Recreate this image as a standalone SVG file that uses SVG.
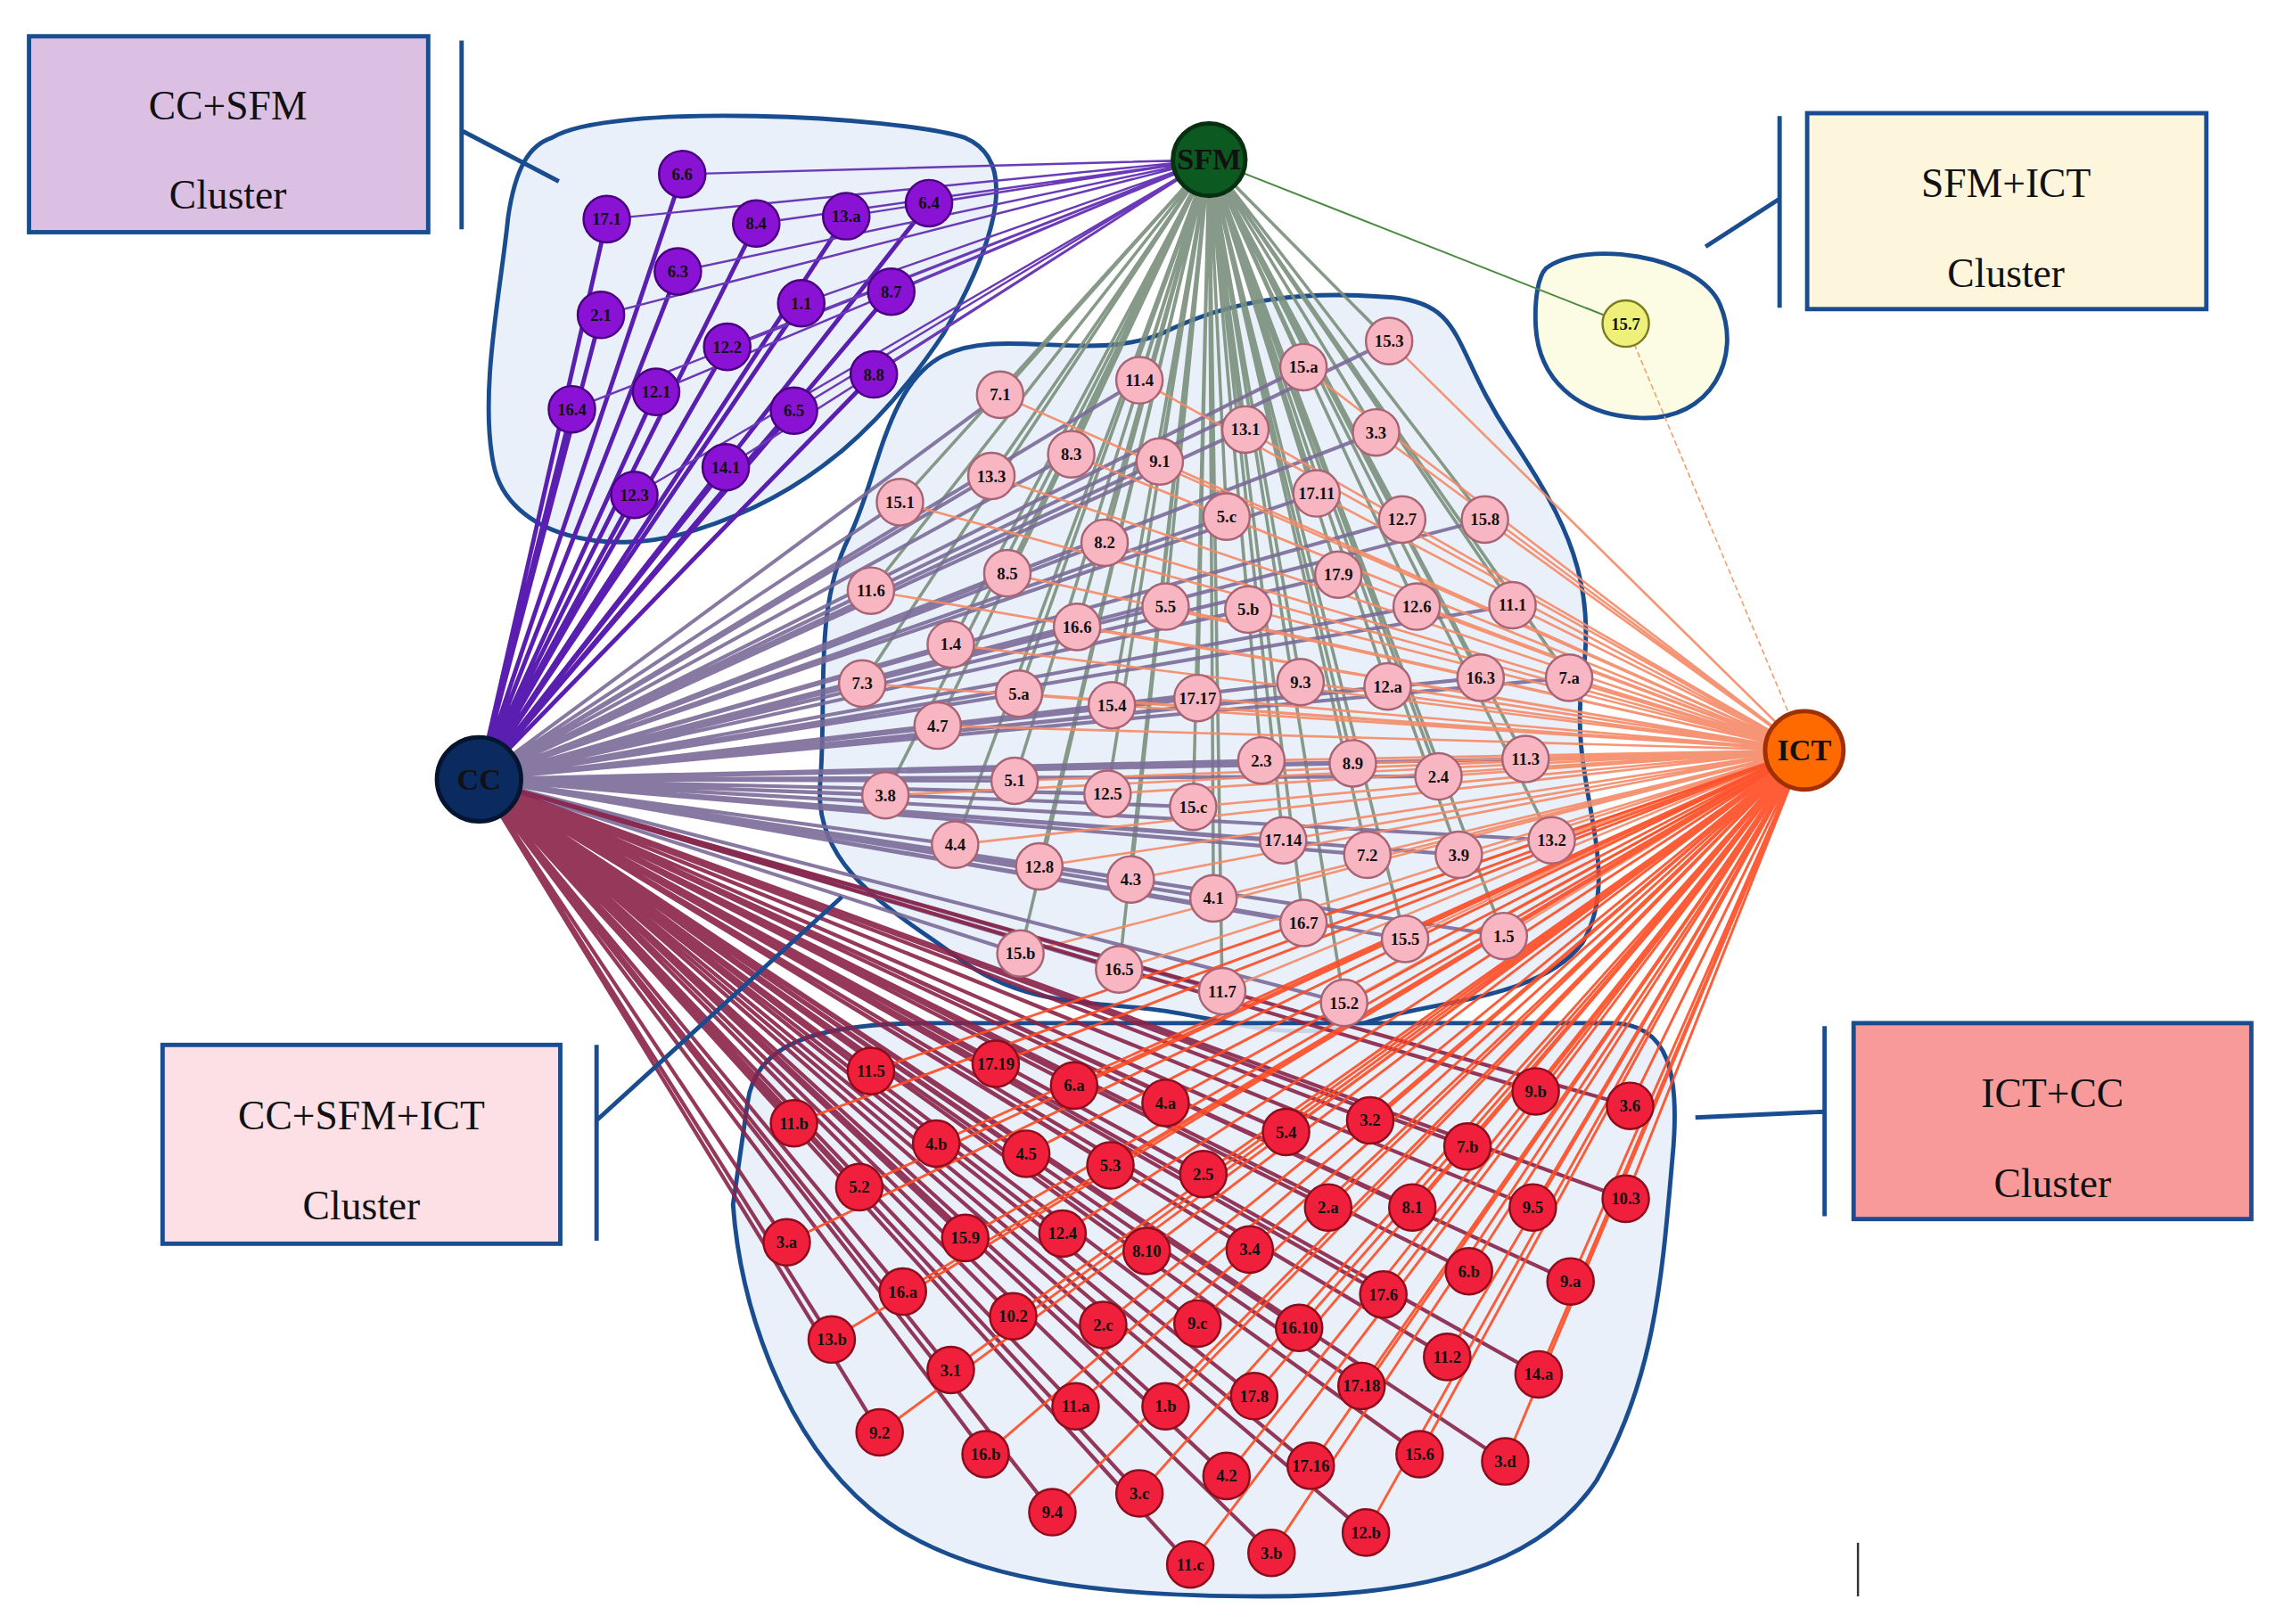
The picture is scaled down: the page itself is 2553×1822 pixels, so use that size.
<svg xmlns="http://www.w3.org/2000/svg" width="2553" height="1822" viewBox="0 0 2553 1822">
<style>
.blob{fill:#e6edf8;fill-opacity:.85;stroke:#1a4d8f;stroke-width:3}
.box{stroke:#1a4d8f;stroke-width:3}
.br{stroke:#1a4d8f;stroke-width:3;fill:none}
.bt{font-family:"Liberation Serif",serif;font-size:28px;text-anchor:middle;fill:#111}
.e{fill:none;stroke-linecap:round}
.n circle{stroke-width:1.5}
.n text{font-family:"Liberation Serif",serif;font-size:11.5px;font-weight:bold;text-anchor:middle;fill:#111}
.p circle{fill:#8a12d4;stroke:#4a0080}
.k circle{fill:#f8b6c2;stroke:#a86474}
.r circle{fill:#f0203c;stroke:#8c0c1c}
.y circle{fill:#eef07a;stroke:#7a7a20}
.h text{font-family:"Liberation Serif",serif;font-size:21px;font-weight:bold;text-anchor:middle;fill:#111}
.h circle{stroke-width:3}
</style>
<rect width="2553" height="1822" fill="#fff"/>
<g transform="scale(1.6282)">
<g id="clusters">
<path class="blob" d="M380 95C420 70 620 80 665 95C700 110 690 160 650 230C610 290 560 340 480 365C420 385 350 370 340 320C330 270 345 200 350 150C355 115 365 100 380 95Z"/>
<path class="blob" d="M650 245C690 225 750 250 800 230C850 205 900 200 960 205C1010 210 1000 240 1040 300C1080 360 1100 400 1090 470C1080 540 1120 600 1090 650C1060 690 980 690 940 705C880 720 840 700 790 695C740 690 700 690 660 660C620 630 560 600 565 540C570 480 560 420 585 370C605 330 610 265 650 245Z"/>
<path class="blob" d="M515 760C520 720 560 705 640 705L1110 705C1150 705 1158 740 1152 800C1145 880 1140 950 1100 1020C1060 1080 980 1100 870 1100C760 1100 660 1090 600 1040C540 990 510 900 505 830Z"/>
<path class="blob" style="fill:#fbfbe0" d="M1065 185C1090 165 1170 175 1185 210C1200 245 1180 290 1130 288C1085 286 1060 260 1058 225C1057 205 1060 190 1065 185Z"/>
</g>
<g id="connectors">
<path class="e" stroke="#5a1fb0" stroke-width="3" d="M330 537L470 120M330 537L418 151M330 537L521 154M330 537L583 149M330 537L640 140M330 537L467 187M330 537L552 209M330 537L614 201M330 537L414 217M330 537L501 239M330 537L602 258M330 537L394 282M330 537L452 270M330 537L547 283M330 537L500 322M330 537L437 341"/>
<path class="e" stroke="#6a3ab8" stroke-width="1.5" d="M833 110L470 120M833 110L418 151M833 110L521 154M833 110L583 149M833 110L640 140M833 110L467 187M833 110L552 209M833 110L614 201M833 110L414 217M833 110L501 239M833 110L602 258M833 110L394 282M833 110L452 270M833 110L547 283M833 110L500 322M833 110L437 341"/>
<path class="e" stroke="#4a8a40" stroke-width="1.2" d="M833 110L1120 223"/>
<path class="e" stroke="#f0a070" stroke-width="1" stroke-dasharray="3 3" d="M1243 517L1120 223"/>
<path class="e" stroke="#7a8f7c" stroke-width="2.2" opacity=".9" d="M833 110L957 235M833 110L898 253M833 110L785 262M833 110L689 272M833 110L858 296M833 110L948 298M833 110L738 313M833 110L799 318M833 110L683 328M833 110L620 346M833 110L907 340M833 110L845 356M833 110L966 358M833 110L1023 358M833 110L761 374M833 110L922 396M833 110L694 395M833 110L600 407M833 110L803 418M833 110L860 420M833 110L976 418M833 110L1042 417M833 110L742 432M833 110L655 444M833 110L594 471M833 110L702 478M833 110L766 486M833 110L825 481M833 110L896 470M833 110L956 473M833 110L1020 467M833 110L1081 467M833 110L646 500M833 110L1051 523M833 110L869 524M833 110L932 526M833 110L991 535M833 110L699 538M833 110L763 547M833 110L822 556M833 110L610 548M833 110L658 582M833 110L884 579M833 110L942 589M833 110L1005 589M833 110L1069 579M833 110L716 597M833 110L779 606M833 110L836 619M833 110L898 636M833 110L968 647M833 110L1036 645M833 110L703 657M833 110L771 668M833 110L842 683M833 110L926 691"/>
<path class="e" stroke="#7a6a98" stroke-width="2.5" opacity=".9" d="M330 537L957 235M330 537L898 253M330 537L785 262M330 537L689 272M330 537L858 296M330 537L948 298M330 537L738 313M330 537L799 318M330 537L683 328M330 537L620 346M330 537L907 340M330 537L845 356M330 537L966 358M330 537L1023 358M330 537L761 374M330 537L922 396M330 537L694 395M330 537L600 407M330 537L803 418M330 537L860 420M330 537L976 418M330 537L1042 417M330 537L742 432M330 537L655 444M330 537L594 471M330 537L702 478M330 537L766 486M330 537L825 481M330 537L896 470M330 537L956 473M330 537L1020 467M330 537L1081 467M330 537L646 500M330 537L1051 523M330 537L869 524M330 537L932 526M330 537L991 535M330 537L699 538M330 537L763 547M330 537L822 556M330 537L610 548M330 537L658 582M330 537L884 579M330 537L942 589M330 537L1005 589M330 537L1069 579M330 537L716 597M330 537L779 606M330 537L836 619M330 537L898 636M330 537L968 647M330 537L1036 645M330 537L703 657M330 537L771 668M330 537L842 683M330 537L926 691"/>
<path class="e" stroke="#f58a66" stroke-width="1.6" opacity=".9" d="M1243 517L957 235M1243 517L898 253M1243 517L785 262M1243 517L689 272M1243 517L858 296M1243 517L948 298M1243 517L738 313M1243 517L799 318M1243 517L683 328M1243 517L620 346M1243 517L907 340M1243 517L845 356M1243 517L966 358M1243 517L1023 358M1243 517L761 374M1243 517L922 396M1243 517L694 395M1243 517L600 407M1243 517L803 418M1243 517L860 420M1243 517L976 418M1243 517L1042 417M1243 517L742 432M1243 517L655 444M1243 517L594 471M1243 517L702 478M1243 517L766 486M1243 517L825 481M1243 517L896 470M1243 517L956 473M1243 517L1020 467M1243 517L1081 467M1243 517L646 500M1243 517L1051 523M1243 517L869 524M1243 517L932 526M1243 517L991 535M1243 517L699 538M1243 517L763 547M1243 517L822 556M1243 517L610 548M1243 517L658 582M1243 517L884 579M1243 517L942 589M1243 517L1005 589M1243 517L1069 579M1243 517L716 597M1243 517L779 606M1243 517L836 619M1243 517L898 636M1243 517L968 647M1243 517L1036 645M1243 517L703 657M1243 517L771 668M1243 517L842 683M1243 517L926 691"/>
<path class="e" stroke="#8a2248" stroke-width="2.6" opacity=".9" d="M330 537L600 738M330 537L686 733M330 537L740 748M330 537L803 760M330 537L886 780M330 537L944 772M330 537L1058 752M330 537L1123 762M330 537L547 774M330 537L645 788M330 537L707 795M330 537L765 803M330 537L829 809M330 537L1011 790M330 537L592 818M330 537L915 832M330 537L973 832M330 537L1056 832M330 537L1120 826M330 537L542 856M330 537L665 853M330 537L732 850M330 537L790 862M330 537L861 861M330 537L1012 876M330 537L1082 883M330 537L622 890M330 537L953 892M330 537L698 907M330 537L760 913M330 537L825 912M330 537L895 915M330 537L997 935M330 537L1060 947M330 537L573 923M330 537L655 944M330 537L864 962M330 537L938 955M330 537L741 969M330 537L803 969M330 537L606 987M330 537L679 1002M330 537L978 1002M330 537L1037 1007M330 537L903 1010M330 537L845 1017M330 537L785 1029M330 537L725 1042M330 537L941 1056M330 537L876 1070M330 537L820 1078"/>
<path class="e" stroke="#ff4a22" stroke-width="1.8" opacity=".9" d="M1243 517L600 738M1243 517L686 733M1243 517L740 748M1243 517L803 760M1243 517L886 780M1243 517L944 772M1243 517L1058 752M1243 517L1123 762M1243 517L547 774M1243 517L645 788M1243 517L707 795M1243 517L765 803M1243 517L829 809M1243 517L1011 790M1243 517L592 818M1243 517L915 832M1243 517L973 832M1243 517L1056 832M1243 517L1120 826M1243 517L542 856M1243 517L665 853M1243 517L732 850M1243 517L790 862M1243 517L861 861M1243 517L1012 876M1243 517L1082 883M1243 517L622 890M1243 517L953 892M1243 517L698 907M1243 517L760 913M1243 517L825 912M1243 517L895 915M1243 517L997 935M1243 517L1060 947M1243 517L573 923M1243 517L655 944M1243 517L864 962M1243 517L938 955M1243 517L741 969M1243 517L803 969M1243 517L606 987M1243 517L679 1002M1243 517L978 1002M1243 517L1037 1007M1243 517L903 1010M1243 517L845 1017M1243 517L785 1029M1243 517L725 1042M1243 517L941 1056M1243 517L876 1070M1243 517L820 1078"/>
</g>
<g id="nodes-ccsfm">
<g class="n p"><circle cx="470" cy="120" r="16"/><text x="470" y="124">6.6</text></g>
<g class="n p"><circle cx="418" cy="151" r="16"/><text x="418" y="155">17.1</text></g>
<g class="n p"><circle cx="521" cy="154" r="16"/><text x="521" y="158">8.4</text></g>
<g class="n p"><circle cx="583" cy="149" r="16"/><text x="583" y="153">13.a</text></g>
<g class="n p"><circle cx="640" cy="140" r="16"/><text x="640" y="144">6.4</text></g>
<g class="n p"><circle cx="467" cy="187" r="16"/><text x="467" y="191">6.3</text></g>
<g class="n p"><circle cx="552" cy="209" r="16"/><text x="552" y="213">1.1</text></g>
<g class="n p"><circle cx="614" cy="201" r="16"/><text x="614" y="205">8.7</text></g>
<g class="n p"><circle cx="414" cy="217" r="16"/><text x="414" y="221">2.1</text></g>
<g class="n p"><circle cx="501" cy="239" r="16"/><text x="501" y="243">12.2</text></g>
<g class="n p"><circle cx="602" cy="258" r="16"/><text x="602" y="262">8.8</text></g>
<g class="n p"><circle cx="394" cy="282" r="16"/><text x="394" y="286">16.4</text></g>
<g class="n p"><circle cx="452" cy="270" r="16"/><text x="452" y="274">12.1</text></g>
<g class="n p"><circle cx="547" cy="283" r="16"/><text x="547" y="287">6.5</text></g>
<g class="n p"><circle cx="500" cy="322" r="16"/><text x="500" y="326">14.1</text></g>
<g class="n p"><circle cx="437" cy="341" r="16"/><text x="437" y="345">12.3</text></g>
</g>
<g id="nodes-sfmict">
<g class="n y"><circle cx="1120" cy="223" r="16"/><text x="1120" y="227">15.7</text></g>
</g>
<g id="nodes-all">
<g class="n k"><circle cx="957" cy="235" r="16"/><text x="957" y="239">15.3</text></g>
<g class="n k"><circle cx="898" cy="253" r="16"/><text x="898" y="257">15.a</text></g>
<g class="n k"><circle cx="785" cy="262" r="16"/><text x="785" y="266">11.4</text></g>
<g class="n k"><circle cx="689" cy="272" r="16"/><text x="689" y="276">7.1</text></g>
<g class="n k"><circle cx="858" cy="296" r="16"/><text x="858" y="300">13.1</text></g>
<g class="n k"><circle cx="948" cy="298" r="16"/><text x="948" y="302">3.3</text></g>
<g class="n k"><circle cx="738" cy="313" r="16"/><text x="738" y="317">8.3</text></g>
<g class="n k"><circle cx="799" cy="318" r="16"/><text x="799" y="322">9.1</text></g>
<g class="n k"><circle cx="683" cy="328" r="16"/><text x="683" y="332">13.3</text></g>
<g class="n k"><circle cx="620" cy="346" r="16"/><text x="620" y="350">15.1</text></g>
<g class="n k"><circle cx="907" cy="340" r="16"/><text x="907" y="344">17.11</text></g>
<g class="n k"><circle cx="845" cy="356" r="16"/><text x="845" y="360">5.c</text></g>
<g class="n k"><circle cx="966" cy="358" r="16"/><text x="966" y="362">12.7</text></g>
<g class="n k"><circle cx="1023" cy="358" r="16"/><text x="1023" y="362">15.8</text></g>
<g class="n k"><circle cx="761" cy="374" r="16"/><text x="761" y="378">8.2</text></g>
<g class="n k"><circle cx="922" cy="396" r="16"/><text x="922" y="400">17.9</text></g>
<g class="n k"><circle cx="694" cy="395" r="16"/><text x="694" y="399">8.5</text></g>
<g class="n k"><circle cx="600" cy="407" r="16"/><text x="600" y="411">11.6</text></g>
<g class="n k"><circle cx="803" cy="418" r="16"/><text x="803" y="422">5.5</text></g>
<g class="n k"><circle cx="860" cy="420" r="16"/><text x="860" y="424">5.b</text></g>
<g class="n k"><circle cx="976" cy="418" r="16"/><text x="976" y="422">12.6</text></g>
<g class="n k"><circle cx="1042" cy="417" r="16"/><text x="1042" y="421">11.1</text></g>
<g class="n k"><circle cx="742" cy="432" r="16"/><text x="742" y="436">16.6</text></g>
<g class="n k"><circle cx="655" cy="444" r="16"/><text x="655" y="448">1.4</text></g>
<g class="n k"><circle cx="594" cy="471" r="16"/><text x="594" y="475">7.3</text></g>
<g class="n k"><circle cx="702" cy="478" r="16"/><text x="702" y="482">5.a</text></g>
<g class="n k"><circle cx="766" cy="486" r="16"/><text x="766" y="490">15.4</text></g>
<g class="n k"><circle cx="825" cy="481" r="16"/><text x="825" y="485">17.17</text></g>
<g class="n k"><circle cx="896" cy="470" r="16"/><text x="896" y="474">9.3</text></g>
<g class="n k"><circle cx="956" cy="473" r="16"/><text x="956" y="477">12.a</text></g>
<g class="n k"><circle cx="1020" cy="467" r="16"/><text x="1020" y="471">16.3</text></g>
<g class="n k"><circle cx="1081" cy="467" r="16"/><text x="1081" y="471">7.a</text></g>
<g class="n k"><circle cx="646" cy="500" r="16"/><text x="646" y="504">4.7</text></g>
<g class="n k"><circle cx="1051" cy="523" r="16"/><text x="1051" y="527">11.3</text></g>
<g class="n k"><circle cx="869" cy="524" r="16"/><text x="869" y="528">2.3</text></g>
<g class="n k"><circle cx="932" cy="526" r="16"/><text x="932" y="530">8.9</text></g>
<g class="n k"><circle cx="991" cy="535" r="16"/><text x="991" y="539">2.4</text></g>
<g class="n k"><circle cx="699" cy="538" r="16"/><text x="699" y="542">5.1</text></g>
<g class="n k"><circle cx="763" cy="547" r="16"/><text x="763" y="551">12.5</text></g>
<g class="n k"><circle cx="822" cy="556" r="16"/><text x="822" y="560">15.c</text></g>
<g class="n k"><circle cx="610" cy="548" r="16"/><text x="610" y="552">3.8</text></g>
<g class="n k"><circle cx="658" cy="582" r="16"/><text x="658" y="586">4.4</text></g>
<g class="n k"><circle cx="884" cy="579" r="16"/><text x="884" y="583">17.14</text></g>
<g class="n k"><circle cx="942" cy="589" r="16"/><text x="942" y="593">7.2</text></g>
<g class="n k"><circle cx="1005" cy="589" r="16"/><text x="1005" y="593">3.9</text></g>
<g class="n k"><circle cx="1069" cy="579" r="16"/><text x="1069" y="583">13.2</text></g>
<g class="n k"><circle cx="716" cy="597" r="16"/><text x="716" y="601">12.8</text></g>
<g class="n k"><circle cx="779" cy="606" r="16"/><text x="779" y="610">4.3</text></g>
<g class="n k"><circle cx="836" cy="619" r="16"/><text x="836" y="623">4.1</text></g>
<g class="n k"><circle cx="898" cy="636" r="16"/><text x="898" y="640">16.7</text></g>
<g class="n k"><circle cx="968" cy="647" r="16"/><text x="968" y="651">15.5</text></g>
<g class="n k"><circle cx="1036" cy="645" r="16"/><text x="1036" y="649">1.5</text></g>
<g class="n k"><circle cx="703" cy="657" r="16"/><text x="703" y="661">15.b</text></g>
<g class="n k"><circle cx="771" cy="668" r="16"/><text x="771" y="672">16.5</text></g>
<g class="n k"><circle cx="842" cy="683" r="16"/><text x="842" y="687">11.7</text></g>
<g class="n k"><circle cx="926" cy="691" r="16"/><text x="926" y="695">15.2</text></g>
</g>
<g id="nodes-ictcc">
<g class="n r"><circle cx="600" cy="738" r="16"/><text x="600" y="742">11.5</text></g>
<g class="n r"><circle cx="686" cy="733" r="16"/><text x="686" y="737">17.19</text></g>
<g class="n r"><circle cx="740" cy="748" r="16"/><text x="740" y="752">6.a</text></g>
<g class="n r"><circle cx="803" cy="760" r="16"/><text x="803" y="764">4.a</text></g>
<g class="n r"><circle cx="886" cy="780" r="16"/><text x="886" y="784">5.4</text></g>
<g class="n r"><circle cx="944" cy="772" r="16"/><text x="944" y="776">3.2</text></g>
<g class="n r"><circle cx="1058" cy="752" r="16"/><text x="1058" y="756">9.b</text></g>
<g class="n r"><circle cx="1123" cy="762" r="16"/><text x="1123" y="766">3.6</text></g>
<g class="n r"><circle cx="547" cy="774" r="16"/><text x="547" y="778">11.b</text></g>
<g class="n r"><circle cx="645" cy="788" r="16"/><text x="645" y="792">4.b</text></g>
<g class="n r"><circle cx="707" cy="795" r="16"/><text x="707" y="799">4.5</text></g>
<g class="n r"><circle cx="765" cy="803" r="16"/><text x="765" y="807">5.3</text></g>
<g class="n r"><circle cx="829" cy="809" r="16"/><text x="829" y="813">2.5</text></g>
<g class="n r"><circle cx="1011" cy="790" r="16"/><text x="1011" y="794">7.b</text></g>
<g class="n r"><circle cx="592" cy="818" r="16"/><text x="592" y="822">5.2</text></g>
<g class="n r"><circle cx="915" cy="832" r="16"/><text x="915" y="836">2.a</text></g>
<g class="n r"><circle cx="973" cy="832" r="16"/><text x="973" y="836">8.1</text></g>
<g class="n r"><circle cx="1056" cy="832" r="16"/><text x="1056" y="836">9.5</text></g>
<g class="n r"><circle cx="1120" cy="826" r="16"/><text x="1120" y="830">10.3</text></g>
<g class="n r"><circle cx="542" cy="856" r="16"/><text x="542" y="860">3.a</text></g>
<g class="n r"><circle cx="665" cy="853" r="16"/><text x="665" y="857">15.9</text></g>
<g class="n r"><circle cx="732" cy="850" r="16"/><text x="732" y="854">12.4</text></g>
<g class="n r"><circle cx="790" cy="862" r="16"/><text x="790" y="866">8.10</text></g>
<g class="n r"><circle cx="861" cy="861" r="16"/><text x="861" y="865">3.4</text></g>
<g class="n r"><circle cx="1012" cy="876" r="16"/><text x="1012" y="880">6.b</text></g>
<g class="n r"><circle cx="1082" cy="883" r="16"/><text x="1082" y="887">9.a</text></g>
<g class="n r"><circle cx="622" cy="890" r="16"/><text x="622" y="894">16.a</text></g>
<g class="n r"><circle cx="953" cy="892" r="16"/><text x="953" y="896">17.6</text></g>
<g class="n r"><circle cx="698" cy="907" r="16"/><text x="698" y="911">10.2</text></g>
<g class="n r"><circle cx="760" cy="913" r="16"/><text x="760" y="917">2.c</text></g>
<g class="n r"><circle cx="825" cy="912" r="16"/><text x="825" y="916">9.c</text></g>
<g class="n r"><circle cx="895" cy="915" r="16"/><text x="895" y="919">16.10</text></g>
<g class="n r"><circle cx="997" cy="935" r="16"/><text x="997" y="939">11.2</text></g>
<g class="n r"><circle cx="1060" cy="947" r="16"/><text x="1060" y="951">14.a</text></g>
<g class="n r"><circle cx="573" cy="923" r="16"/><text x="573" y="927">13.b</text></g>
<g class="n r"><circle cx="655" cy="944" r="16"/><text x="655" y="948">3.1</text></g>
<g class="n r"><circle cx="864" cy="962" r="16"/><text x="864" y="966">17.8</text></g>
<g class="n r"><circle cx="938" cy="955" r="16"/><text x="938" y="959">17.18</text></g>
<g class="n r"><circle cx="741" cy="969" r="16"/><text x="741" y="973">11.a</text></g>
<g class="n r"><circle cx="803" cy="969" r="16"/><text x="803" y="973">1.b</text></g>
<g class="n r"><circle cx="606" cy="987" r="16"/><text x="606" y="991">9.2</text></g>
<g class="n r"><circle cx="679" cy="1002" r="16"/><text x="679" y="1006">16.b</text></g>
<g class="n r"><circle cx="978" cy="1002" r="16"/><text x="978" y="1006">15.6</text></g>
<g class="n r"><circle cx="1037" cy="1007" r="16"/><text x="1037" y="1011">3.d</text></g>
<g class="n r"><circle cx="903" cy="1010" r="16"/><text x="903" y="1014">17.16</text></g>
<g class="n r"><circle cx="845" cy="1017" r="16"/><text x="845" y="1021">4.2</text></g>
<g class="n r"><circle cx="785" cy="1029" r="16"/><text x="785" y="1033">3.c</text></g>
<g class="n r"><circle cx="725" cy="1042" r="16"/><text x="725" y="1046">9.4</text></g>
<g class="n r"><circle cx="941" cy="1056" r="16"/><text x="941" y="1060">12.b</text></g>
<g class="n r"><circle cx="876" cy="1070" r="16"/><text x="876" y="1074">3.b</text></g>
<g class="n r"><circle cx="820" cy="1078" r="16"/><text x="820" y="1082">11.c</text></g>
</g>
<g id="hub-sfm" class="h"><circle cx="833" cy="110" r="25" fill="#0c5a22" stroke="#063010"/><text x="833" y="117">SFM</text></g>
<g id="hub-cc" class="h"><circle cx="330" cy="537" r="29" fill="#0a2a60" stroke="#051530"/><text x="330" y="544">CC</text></g>
<g id="hub-ict" class="h"><circle cx="1243" cy="517" r="27" fill="#ff6a00" stroke="#a03000"/><text x="1243" y="524">ICT</text></g>
<g id="label-ccsfm">
<rect class="box" x="20" y="25" width="275" height="135" fill="#dcc0e4"/>
<text class="bt" x="157" y="82">CC+SFM</text><text class="bt" x="157" y="144">Cluster</text>
<path class="br" d="M318 28V158M318 90L385 125"/>
</g>
<g id="label-sfmict">
<rect class="box" x="1245" y="78" width="275" height="135" fill="#fdf5dc"/>
<text class="bt" x="1382" y="136">SFM+ICT</text><text class="bt" x="1382" y="198">Cluster</text>
<path class="br" d="M1226 80V212M1226 137L1175 170"/>
</g>
<g id="label-all">
<rect class="box" x="112" y="720" width="274" height="137" fill="#fde0e6"/>
<text class="bt" x="249" y="778">CC+SFM+ICT</text><text class="bt" x="249" y="840">Cluster</text>
<path class="br" d="M411 720V855M411 772L580 618"/>
</g>
<g id="label-ictcc">
<rect class="box" x="1277" y="705" width="274" height="135" fill="#f99a9a"/>
<text class="bt" x="1414" y="763">ICT+CC</text><text class="bt" x="1414" y="825">Cluster</text>
<path class="br" d="M1257 707V838M1257 766L1168 770"/>
</g>
<path d="M1280 1063V1100" stroke="#333" stroke-width="1.5"/>
</g>
</svg>
